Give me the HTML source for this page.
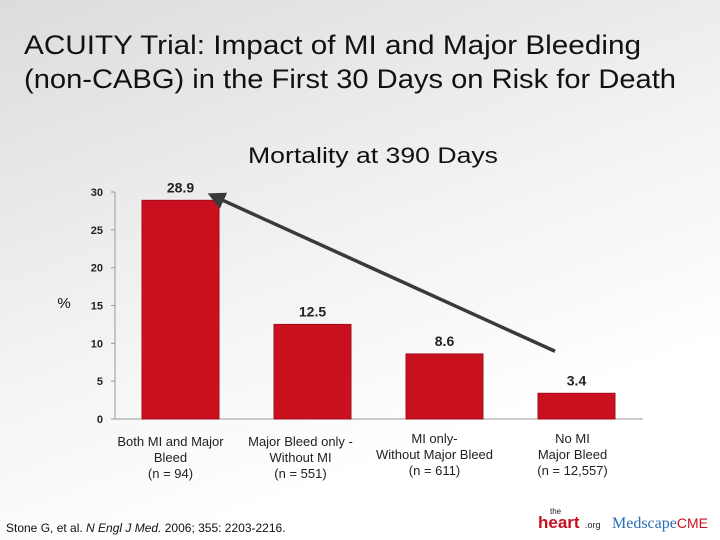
<!DOCTYPE html>
<html><head><meta charset="utf-8"><style>
body{margin:0;width:720px;height:540px;overflow:hidden;font-family:"Liberation Sans",sans-serif;}
#bg{position:absolute;left:0;top:0;width:720px;height:540px;background:linear-gradient(160deg,#dcdcdc 0%,#f2f2f2 45%,#fff 75%);}
</style></head><body>
<div id="bg"></div>
<svg width="720" height="540" style="position:absolute;left:0;top:0">
<text x="24" y="54" font-size="27" fill="#111" textLength="617" lengthAdjust="spacingAndGlyphs">ACUITY Trial: Impact of MI and Major Bleeding</text>
<text x="24" y="88" font-size="27" fill="#111" textLength="652" lengthAdjust="spacingAndGlyphs">(non-CABG) in the First 30 Days on Risk for Death</text>
<text x="248" y="163" font-size="22" fill="#111" textLength="250" lengthAdjust="spacingAndGlyphs">Mortality at 390 Days</text>
<text x="64" y="308" font-size="15" fill="#111" text-anchor="middle">%</text>
<g id="chart"></g>
<text x="6" y="532" font-size="12" fill="#111">Stone G, et al. <tspan font-style="italic">N Engl J Med.</tspan> 2006; 355: 2203-2216.</text>
<g>
<text x="550" y="514" font-size="8" fill="#222">the</text>
<text x="538" y="528" font-size="17" font-weight="bold" fill="#c8101f">heart</text>
<text x="585" y="528" font-size="9" fill="#222">.org</text>
</g>
<text x="612" y="528" font-size="16" font-family="Liberation Serif,serif" fill="#2a6fb5">Medscape<tspan fill="#c8101f" font-family="Liberation Sans,sans-serif" font-size="14">CME</tspan></text>
</svg>
<script>
const categories=[["Both MI and Major","Bleed","(n = 94)"],["Major Bleed only -","Without MI","(n = 551)"],["MI only-","Without Major Bleed","(n = 611)"],["No MI","Major Bleed","(n = 12,557)"]];
const values=[28.9,12.5,8.6,3.4];
const ticks=[0,5,10,15,20,25,30];
const NS="http://www.w3.org/2000/svg";
const g=document.getElementById('chart');
const y0=419,y30=192,ax=115,axEnd=643;
const y=v=>y0-(v/30)*(y0-y30);
const x=i=>142+i*132;
function mk(t,a){const e=document.createElementNS(NS,t);for(const k in a)e.setAttribute(k,a[k]);g.appendChild(e);return e;}
let l=mk('line',{x1:ax,y1:y30,x2:ax,y2:y0,stroke:'#999'});


l=mk('line',{x1:ax,y1:y0,x2:axEnd,y2:y0,stroke:'#999'});


ticks.forEach(t=>{
 const tl=mk('line',{x1:ax-4,y1:y(t),x2:ax,y2:y(t),stroke:'#999'});
 
 
 const tx=mk('text',{x:ax-12,y:y(t)+4,'font-size':11,'font-weight':'bold','text-anchor':'end',fill:'#222'});
 tx.textContent=t;
 
 
});
values.forEach((v,i)=>{
 const r=mk('rect',{x:x(i),y:y(v),width:77,height:y0-y(v),fill:'#c8101f',stroke:'#a50d19','stroke-width':1});
 
 
 const t=mk('text',{x:x(i)+38.5,y:y(v)-8,'font-size':14,'font-weight':'bold','text-anchor':'middle',fill:'#222'});
 t.textContent=v.toFixed(1);
 
 
 const yOff=i==2||i==3?443:446;
 categories[i].forEach((s,j)=>{
  const c=mk('text',{x:x(i)+38.5+(i==0?-10:i==1?-12:i==2?-10:-4),y:yOff+j*16,'font-size':13,'text-anchor':'middle',fill:'#222'});
  c.textContent=s;
  
  
 });
});
const d=mk('defs',{});
d.innerHTML='<marker id="ah" markerWidth="5" markerHeight="5" refX="3" refY="2.5" orient="auto"><path d="M0,0 L5,2.5 L0,5 z" fill="#3a3a3a"/></marker>';
const ar=mk('line',{x1:x(3)+17,y1:y(values[3])-42,x2:x(0)+72,y2:y(values[0])-4,stroke:'#3a3a3a','stroke-width':3.5,'marker-end':'url(#ah)'});


</script>
</body></html>
